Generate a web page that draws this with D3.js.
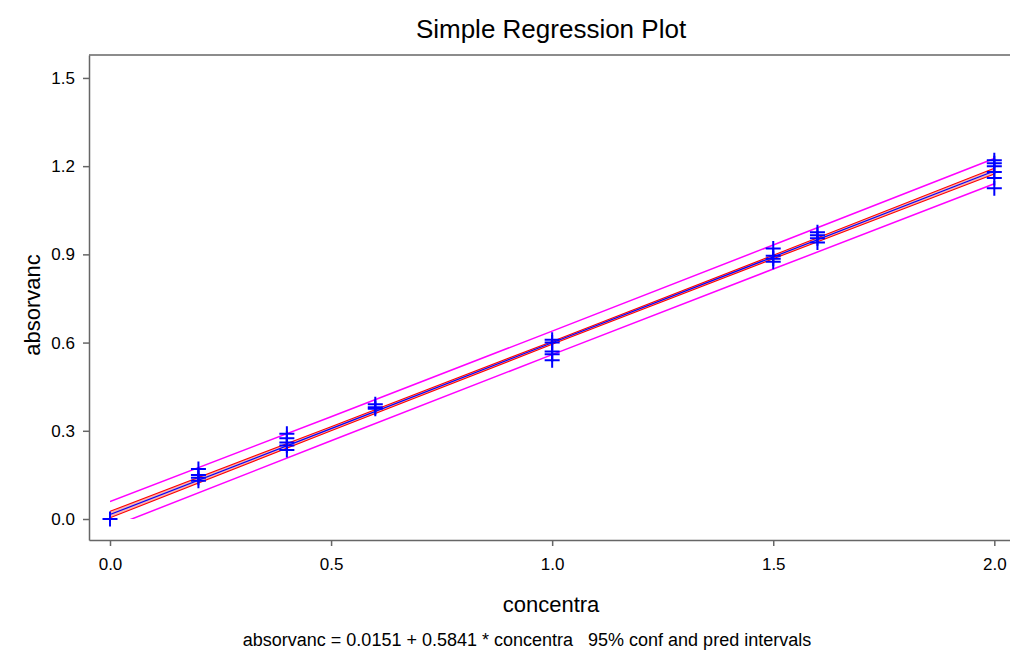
<!DOCTYPE html>
<html lang="en">
<head>
<meta charset="utf-8">
<title>Simple Regression Plot</title>
<script src="https://cdnjs.cloudflare.com/ajax/libs/d3/7.8.5/d3.min.js"></script>
<style>
  body { margin: 0; background: #fff; }
  svg { font-family: "Liberation Sans", Arial, sans-serif; }
  .axis path, .axis line { stroke: #666; stroke-width: 1.5; }
  .axis text { font-size: 17px; fill: #000; }
</style>
</head>
<body>
<div id="chart"></div>
<script>
const width = 1010;
const height = 650;

// observed points, grouped by concentration
const obsX = [0.0, 0.2, 0.2, 0.2, 0.2, 0.4, 0.4, 0.4, 0.4, 0.4, 0.6, 0.6, 0.6,
              1.0, 1.0, 1.0, 1.0, 1.0, 1.5, 1.5, 1.5, 1.5, 1.6, 1.6, 1.6, 1.6,
              2.0, 2.0, 2.0, 2.0, 2.0, 2.0];
const obsY = [0.0, 0.17, 0.15, 0.14, 0.13, 0.29, 0.275, 0.26, 0.25, 0.235, 0.39, 0.38, 0.375,
              0.61, 0.60, 0.57, 0.56, 0.54, 0.92, 0.895, 0.885, 0.875, 0.975, 0.965, 0.955, 0.94,
              1.22, 1.21, 1.20, 1.18, 1.16, 1.125];

// fitted line and interval bands, read at these concentrations
const bandX   = [0.0, 0.5, 1.0, 1.5, 2.0];
const fitY    = [0.0151, 0.3072, 0.5992, 0.8913, 1.1833];
const ciUpper = [0.026, 0.314, 0.604, 0.897, 1.193];
const ciLower = [0.004, 0.300, 0.594, 0.885, 1.173];
const piUpper = [0.059, 0.348, 0.639, 0.932, 1.226];
const piLower = [-0.029, 0.266, 0.559, 0.850, 1.140];

const xTicks = [0.0, 0.5, 1.0, 1.5, 2.0];
const yTicks = [0.0, 0.3, 0.6, 0.9, 1.2, 1.5];

const svg = d3.select("#chart").append("svg")
    .attr("width", width)
    .attr("height", height);

const x = d3.scaleLinear().domain([-0.0475, 2.04]).range([89, 1012]);
const y = d3.scaleLinear().domain([-0.0714, 1.578]).range([540, 55]);

// frame top line
svg.append("line")
    .attr("x1", 89).attr("x2", 1012)
    .attr("y1", 55).attr("y2", 55)
    .attr("stroke", "#666").attr("stroke-width", 1.5);

svg.append("g")
    .attr("class", "axis")
    .attr("transform", "translate(0,540)")
    .call(d3.axisBottom(x).tickValues(xTicks).tickFormat(d3.format(".1f")).tickSize(6).tickSizeOuter(0).tickPadding(12));

svg.append("g")
    .attr("class", "axis")
    .attr("transform", "translate(89,0)")
    .call(d3.axisLeft(y).tickValues(yTicks).tickFormat(d3.format(".1f")).tickSize(6).tickSizeOuter(0).tickPadding(8));

// bands are only drawn above zero
svg.append("clipPath").attr("id", "above0")
  .append("rect")
    .attr("x", x(0)).attr("y", 55)
    .attr("width", 1012 - x(0)).attr("height", y(0) - 55);

const band = svg.append("g").attr("clip-path", "url(#above0)");

const lineOf = vals => d3.line()
    .x((d, i) => x(bandX[i]))
    .y(d => y(d))(vals);

band.append("path")
    .attr("d", d3.area()
        .x((d, i) => x(bandX[i]))
        .y0((d, i) => y(ciLower[i]))
        .y1(d => y(d))(ciUpper))
    .attr("fill", "#f8b4b4");

[ciUpper, ciLower].forEach(v => band.append("path")
    .attr("d", lineOf(v))
    .attr("fill", "none").attr("stroke", "#ff0000").attr("stroke-width", 1.1));

[piUpper, piLower].forEach(v => band.append("path")
    .attr("d", lineOf(v))
    .attr("fill", "none").attr("stroke", "#ff00ff").attr("stroke-width", 1.5));

svg.append("path")
    .attr("d", lineOf(fitY))
    .attr("fill", "none").attr("stroke", "#0000ff").attr("stroke-width", 1.2);

// plus markers
const s = 7.5;
svg.append("g")
  .selectAll("path")
  .data(obsX.map((d, i) => [d, obsY[i]]))
  .join("path")
    .attr("d", d => {
        const cx = x(d[0]), cy = y(d[1]);
        return `M${cx - s},${cy}H${cx + s}M${cx},${cy - s}V${cy + s}`;
    })
    .attr("stroke", "#0000ff").attr("stroke-width", 2).attr("fill", "none");

svg.append("text")
    .attr("x", 551).attr("y", 38)
    .attr("text-anchor", "middle")
    .attr("font-size", 26)
    .text("Simple Regression Plot");

svg.append("text")
    .attr("x", 551).attr("y", 612)
    .attr("text-anchor", "middle")
    .attr("font-size", 22)
    .text("concentra");

svg.append("text")
    .attr("transform", "translate(40,305) rotate(-90)")
    .attr("text-anchor", "middle")
    .attr("font-size", 22)
    .text("absorvanc");

svg.append("text")
    .attr("x", 527).attr("y", 646)
    .attr("text-anchor", "middle")
    .attr("font-size", 18)
    .attr("xml:space", "preserve")
    .style("white-space", "pre")
    .text("absorvanc = 0.0151 + 0.5841 * concentra   95% conf and pred intervals");
</script>
</body>
</html>
